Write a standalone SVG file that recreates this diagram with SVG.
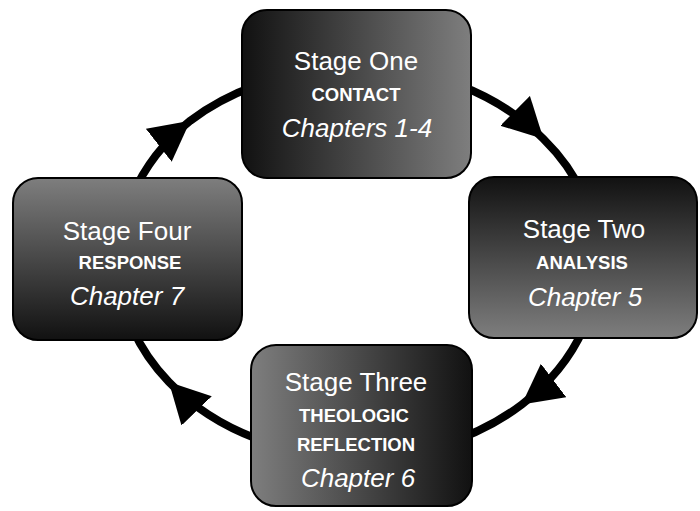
<svg xmlns="http://www.w3.org/2000/svg" width="700" height="511" viewBox="0 0 700 511">
<style>
.box{stroke:#000;stroke-width:2}
.conn{fill:none;stroke:#000;stroke-width:8;marker-mid:url(#arrow)}
text{fill:#fff;font-family:"Liberation Sans",Arial,sans-serif;text-anchor:middle}
.t1{font-size:26px}
.t2{font-size:18.5px;font-weight:bold}
.t3{font-size:26px;font-style:italic}
</style>
<defs>
<linearGradient id="gOne" x1="0" y1="0" x2="1" y2="0"><stop offset="0" stop-color="#111"/><stop offset="1" stop-color="#7e7e7e"/></linearGradient>
<linearGradient id="gTwo" x1="0" y1="0" x2="0" y2="1"><stop offset="0" stop-color="#111"/><stop offset="1" stop-color="#7e7e7e"/></linearGradient>
<linearGradient id="gThree" x1="0" y1="0" x2="1" y2="0"><stop offset="0" stop-color="#7e7e7e"/><stop offset="1" stop-color="#111"/></linearGradient>
<linearGradient id="gFour" x1="0" y1="0" x2="0" y2="1"><stop offset="0" stop-color="#7e7e7e"/><stop offset="1" stop-color="#111"/></linearGradient>
<marker id="arrow" markerUnits="userSpaceOnUse" viewBox="0 0 40 42" refX="40" refY="21" markerWidth="40" markerHeight="42" orient="auto">
<path d="M0,0 L40,21 L0,42 Z" fill="#000"/>
</marker>
</defs>
<g id="connectors">
<path class="conn" d="M132.5,195.3 A240,195 0 0 1 190.3,120.7 A240,195 0 0 1 256.6,85.3"/>
<path class="conn" d="M459.4,85.3 A240,195 0 0 1 543.5,139 A240,195 0 0 1 583.5,195.3"/>
<path class="conn" d="M583.5,328.7 A240,195 0 0 1 521.7,404.6 A240,195 0 0 1 440.1,445.2"/>
<path class="conn" d="M275.9,445.2 A240,195 0 0 1 168.9,382.1 A240,195 0 0 1 132.5,328.7"/>
</g>
<g id="stage-one">
<rect class="box" x="242" y="10" width="229" height="168" rx="25" fill="url(#gOne)"/>
<text class="t1" x="356" y="70">Stage One</text>
<text class="t2" x="356" y="101">CONTACT</text>
<text class="t3" x="357" y="137">Chapters 1-4</text>
</g>
<g id="stage-two">
<rect class="box" x="469" y="177" width="228" height="161" rx="25" fill="url(#gTwo)"/>
<text class="t1" x="584" y="238">Stage Two</text>
<text class="t2" x="582" y="269">ANALYSIS</text>
<text class="t3" x="585" y="306">Chapter 5</text>
</g>
<g id="stage-three">
<rect class="box" x="251" y="345" width="221" height="161" rx="25" fill="url(#gThree)"/>
<text class="t1" x="356" y="391">Stage Three</text>
<text class="t2" x="354" y="422">THEOLOGIC</text>
<text class="t2" x="356" y="451">REFLECTION</text>
<text class="t3" x="358" y="487">Chapter 6</text>
</g>
<g id="stage-four">
<rect class="box" x="13" y="178" width="229" height="162" rx="25" fill="url(#gFour)"/>
<text class="t1" x="127" y="240">Stage Four</text>
<text class="t2" x="130" y="269">RESPONSE</text>
<text class="t3" x="127" y="305">Chapter 7</text>
</g>
</svg>
